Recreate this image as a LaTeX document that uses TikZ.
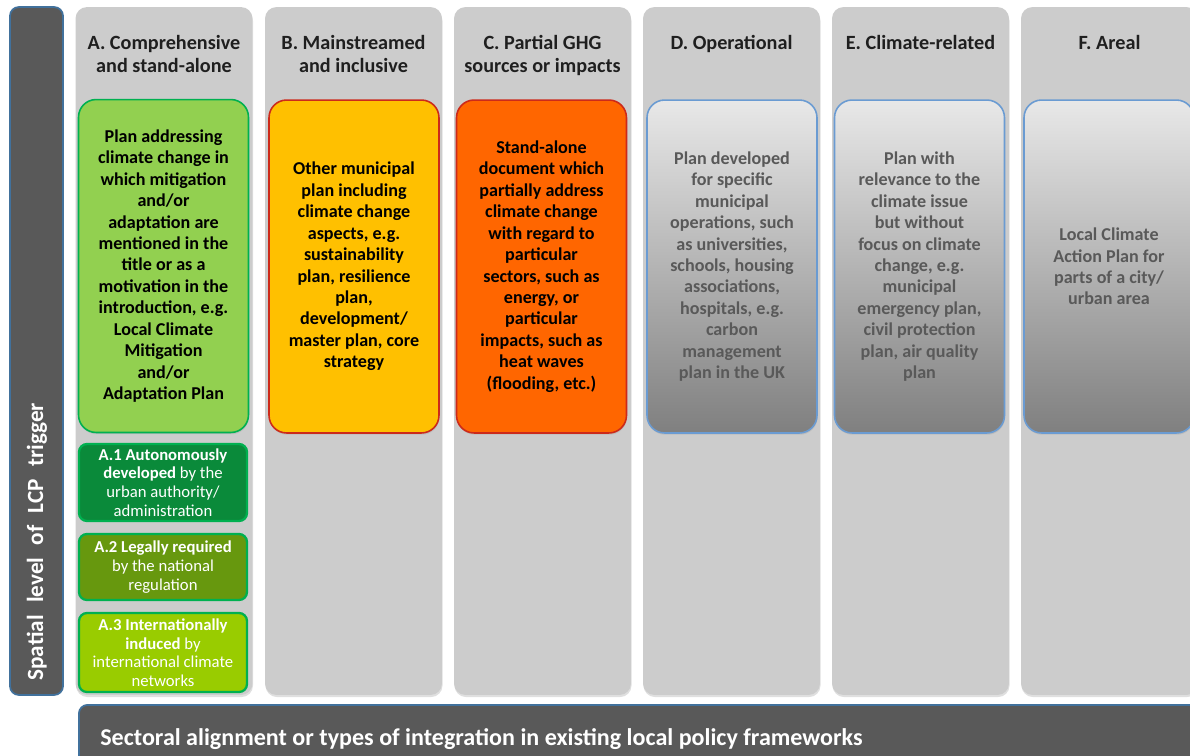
\documentclass[tikz,border=0pt]{standalone}
\usepackage{fontspec}
\setmainfont{Carlito}
\usepackage{tikz}
\usetikzlibrary{positioning,shadows}
\definecolor{panel}{HTML}{CCCCCC}
\definecolor{slate}{HTML}{595959}
\definecolor{edgeblue}{HTML}{41719C}
\definecolor{leaf}{HTML}{92D050}
\definecolor{leafedge}{HTML}{00B050}
\definecolor{autoc}{HTML}{0A8A3A}
\definecolor{legalc}{HTML}{67980E}
\definecolor{intlc}{HTML}{99CC00}
\definecolor{mainc}{HTML}{FFC000}
\definecolor{partc}{HTML}{FF6600}
\definecolor{warmedge}{HTML}{CC2A1A}
\definecolor{cooledge}{HTML}{6A9BD2}
\newcommand{\hd}{\fontsize{11.5}{13}\selectfont\bfseries}
\newcommand{\bx}{\fontsize{10.3}{12.2}\selectfont\bfseries}
\newcommand{\sm}{\fontsize{9.5}{10.6}\selectfont}

\begin{document}
\begin{tikzpicture}[x=0.02cm, y=-0.02cm,
  col/.style={fill=panel, rounded corners=6.5pt, minimum width=3.54cm, minimum height=13.76cm,
              inner sep=0pt, drop shadow={opacity=0.25, shadow xshift=0.3pt, shadow yshift=-1.2pt}},
  plan/.style={draw=#1, line width=0.9pt, rounded corners=10pt, minimum width=3.4cm,
               minimum height=6.66cm, align=center, inner sep=0pt, font=\bx,
               drop shadow={opacity=0.2, shadow xshift=0.3pt, shadow yshift=-1pt}},
  sub/.style={draw=leafedge, line width=1.3pt, fill=#1, rounded corners=4.5pt, minimum width=3.36cm,
              align=center, text=white, font=\sm, inner sep=0pt},
  grey/.style={plan=cooledge, top color=gray!18, bottom color=gray, text=slate},
  head/.style={anchor=north, align=center, font=\hd, text=black!88, inner sep=0pt},
  bar/.style={fill=slate, draw=edgeblue, line width=1pt, rounded corners=5pt, inner sep=0pt}]
\useasboundingbox (0,0) rectangle (1190,755);
\clip (0,0) rectangle (1190,755);
% -- columns
\foreach \n/\x in {A/164,B/353.5,C/542.5,D/731.5,E/920.5,F/1109.5}
  \node[col] (col\n) at (\x,351) {};
% -- axes
\node[bar, minimum width=1.06cm, minimum height=13.76cm] (spatial) at (36.5,351) {};
\node[rotate=90, anchor=west, text=white, font=\fontsize{13.2}{15}\selectfont\bfseries, inner sep=0pt]
  (spatiallbl) at (37,681) {\spaceskip=7pt Spatial level of LCP trigger};
\node[bar, anchor=north west, minimum width=23cm, minimum height=1.32cm] (sectoral) at (78,704) {};
\node[anchor=west, text=white, font=\fontsize{13.7}{15}\selectfont\bfseries, inner sep=0pt]
  (sectorallbl) at (100,739) {Sectoral alignment or types of integration in existing local policy frameworks};
% -- headers
\node[head] (hA) at (164,35) {A. Comprehensive\\and stand-alone};
\node[head] (hB) at (353.5,35) {B. Mainstreamed\\and inclusive};
\node[head] (hC) at (542.5,35) {C. Partial GHG\\sources or impacts};
\node[head] (hD) at (731.5,35) {D. Operational};
\node[head] (hE) at (920.5,35) {E. Climate-related};
\node[head] (hF) at (1109.5,35) {F. Areal};
% -- plan boxes
\node[plan=leafedge, fill=leaf] (pA) at (163.5,266) {Plan addressing\\climate change in\\which mitigation\\and/or\\adaptation are\\mentioned in the\\title or as a\\motivation in the\\introduction, e.g.\\Local Climate\\Mitigation\\and/or\\Adaptation Plan};
\node[plan=warmedge, fill=mainc] (pB) at (354,266.5) {Other municipal\\plan including\\climate change\\aspects, e.g.\\sustainability\\plan, resilience\\plan,\\development/\\master plan, core\\strategy};
\node[plan=warmedge, fill=partc] (pC) at (541.5,266.5) {Stand-alone\\document which\\partially address\\climate change\\with regard to\\particular\\sectors, such as\\energy, or\\particular\\impacts, such as\\heat waves\\(flooding, etc.)};
\node[grey] (pD) at (732,266.5) {Plan developed\\for specific\\municipal\\operations, such\\as universities,\\schools, housing\\associations,\\hospitals, e.g.\\carbon\\management\\plan in the UK};
\node[grey] (pE) at (919.5,266.5) {Plan with\\relevance to the\\climate issue\\but without\\focus on climate\\change, e.g.\\municipal\\emergency plan,\\civil protection\\plan, air quality\\plan};
\node[grey] (pF) at (1109,266.5) {Local Climate\\Action Plan for\\parts of a city/\\urban area};
% -- sub-types of A
\node[sub=autoc, minimum height=1.54cm] (a1) at (163,482.5)
  {\textbf{A.1 Autonomously}\\\textbf{developed} by the\\urban authority/\\administration};
\node[sub=legalc, minimum height=1.32cm] (a2) at (163,567)
  {\textbf{A.2 Legally required}\\by the national\\regulation};
\node[sub=intlc, minimum height=1.58cm] (a3) at (163,652.5)
  {\textbf{A.3 Internationally}\\\textbf{induced} by\\international climate\\networks};
\end{tikzpicture}
\end{document}
